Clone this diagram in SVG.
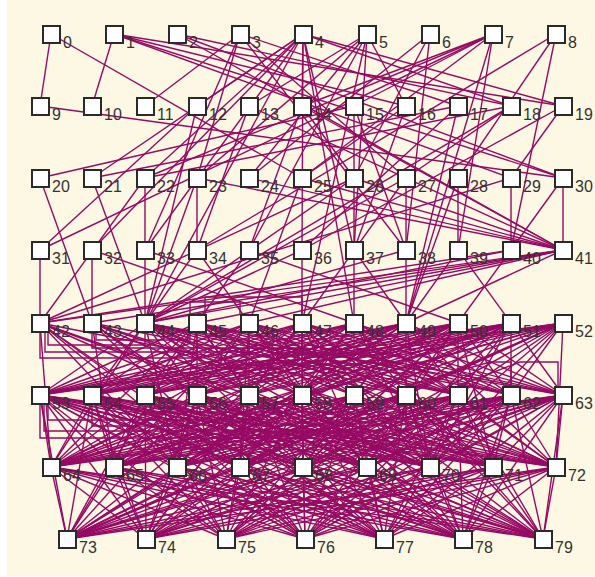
<svg xmlns="http://www.w3.org/2000/svg" width="595" height="577" viewBox="0 0 595 577">
<style>
.e{stroke:#960a64;stroke-width:1.4;fill:none}
.n{fill:#fff;stroke:#2a2a2a;stroke-width:2}
.l{font-family:"Liberation Sans",Arial,sans-serif;font-size:16px;fill:#333}
</style>
<rect x="0" y="0" width="595" height="577" fill="#fff"/>
<rect x="7" y="0" width="588" height="576" fill="#fdf8e3"/>
<g id="connectors" class="e">
<path d="M51 34L40 106"/><path d="M51 34L302 178"/>
<path d="M114 34L92 106"/><path d="M114 34L406 106"/><path d="M114 34L563 106"/><path d="M114 34L511 178"/><path d="M114 34L563 178"/>
<path d="M177 34L563 178"/><path d="M177 34L563 250"/><path d="M177 34L511 106"/>
<path d="M240 34L145 106"/><path d="M240 34L197 178"/><path d="M240 34L458 106"/><path d="M240 34L406 178"/><path d="M240 34L145 250"/><path d="M240 34L406 250"/>
<path d="M303 34L197 106"/><path d="M303 34L92 178"/><path d="M303 34L145 178"/><path d="M303 34L92 250"/><path d="M303 34L145 250"/><path d="M303 34L302 106"/><path d="M303 34L302 250"/><path d="M303 34L354 250"/><path d="M303 34L354 323"/><path d="M303 34L511 106"/><path d="M303 34L563 106"/><path d="M303 34L145 323"/>
<path d="M367 34L249 106"/><path d="M367 34L197 178"/><path d="M367 34L249 178"/><path d="M367 34L249 250"/><path d="M367 34L354 250"/><path d="M367 34L406 106"/><path d="M367 34L302 323"/>
<path d="M430 34L249 178"/><path d="M430 34L354 178"/><path d="M430 34L406 250"/>
<path d="M493 34L302 106"/><path d="M493 34L40 250"/><path d="M493 34L145 178"/><path d="M493 34L354 106"/><path d="M493 34L458 250"/><path d="M493 34L302 178"/><path d="M493 34L406 323"/>
<path d="M556 34L511 250"/><path d="M556 34L197 250"/><path d="M556 34L458 178"/>
<path d="M40 106L563 178"/>
<path d="M197 106L145 323"/><path d="M197 106L40 250"/>
<path d="M249 106L563 250"/><path d="M249 106L197 250"/>
<path d="M302 106L563 250"/><path d="M302 106L249 250"/><path d="M302 106L354 178"/>
<path d="M354 106L406 250"/><path d="M354 106L354 178"/>
<path d="M406 106L354 250"/><path d="M406 106L302 178"/>
<path d="M458 106L406 323"/><path d="M458 106L302 250"/>
<path d="M511 106L145 323"/><path d="M511 106L406 178"/>
<path d="M563 106L302 250"/><path d="M563 106L511 178"/>
<path d="M40 178L92 323"/><path d="M40 178L354 106"/>
<path d="M92 178L145 323"/><path d="M92 178L458 106"/>
<path d="M145 178L145 250"/><path d="M145 178L40 323"/><path d="M145 178L511 106"/>
<path d="M197 178L197 250"/><path d="M197 178L145 323"/><path d="M197 178L563 250"/>
<path d="M249 178L563 250"/>
<path d="M302 178L563 250"/><path d="M302 178L249 323"/>
<path d="M354 178L563 250"/><path d="M354 178L354 250"/><path d="M354 178L40 323"/><path d="M354 178L145 323"/>
<path d="M406 178L406 250"/><path d="M406 178L302 323"/><path d="M406 178L145 323"/>
<path d="M458 178L458 250"/><path d="M458 178L406 323"/>
<path d="M511 178L511 250"/><path d="M511 178L40 323"/>
<path d="M563 178L511 250"/><path d="M563 178L563 250"/>
<path d="M40 250L40 323"/>
<path d="M92 250L92 323"/><path d="M92 250L302 323"/>
<path d="M145 250L145 323"/><path d="M145 250L354 323"/>
<path d="M197 250L145 323"/><path d="M197 250L249 323"/>
<path d="M249 250L197 323"/><path d="M249 250L458 323"/>
<path d="M302 250L302 323"/><path d="M302 250L145 323"/>
<path d="M354 250L354 323"/><path d="M354 250L406 323"/>
<path d="M406 250L406 323"/><path d="M406 250L145 323"/>
<path d="M458 250L406 323"/><path d="M458 250L511 323"/>
<path d="M511 250L458 323"/><path d="M511 250L40 323"/><path d="M511 250L145 323"/>
<path d="M563 250L40 323"/><path d="M563 250L92 323"/><path d="M563 250L145 323"/><path d="M563 250L197 323"/><path d="M563 250L406 323"/><path d="M563 250L249 323"/>
<path d="M40 323L145 395"/><path d="M40 323L249 395"/><path d="M40 323L406 395"/>
<path d="M92 323L197 395"/><path d="M92 323L302 395"/><path d="M92 323L458 395"/>
<path d="M145 323L40 395"/><path d="M145 323L92 395"/><path d="M145 323L249 395"/><path d="M145 323L354 395"/><path d="M145 323L511 395"/><path d="M145 323L563 395"/>
<path d="M197 323L40 395"/><path d="M197 323L92 395"/><path d="M197 323L145 395"/><path d="M197 323L302 395"/><path d="M197 323L406 395"/><path d="M197 323L563 395"/>
<path d="M249 323L40 395"/><path d="M249 323L92 395"/><path d="M249 323L197 395"/><path d="M249 323L354 395"/><path d="M249 323L458 395"/><path d="M249 323L511 395"/>
<path d="M302 323L40 395"/><path d="M302 323L92 395"/><path d="M302 323L145 395"/><path d="M302 323L249 395"/><path d="M302 323L406 395"/><path d="M302 323L563 395"/>
<path d="M354 323L40 395"/><path d="M354 323L145 395"/><path d="M354 323L197 395"/><path d="M354 323L302 395"/><path d="M354 323L458 395"/><path d="M354 323L511 395"/>
<path d="M406 323L40 395"/><path d="M406 323L92 395"/><path d="M406 323L197 395"/><path d="M406 323L249 395"/><path d="M406 323L354 395"/><path d="M406 323L563 395"/>
<path d="M458 323L40 395"/><path d="M458 323L92 395"/><path d="M458 323L145 395"/><path d="M458 323L302 395"/><path d="M458 323L406 395"/><path d="M458 323L511 395"/>
<path d="M511 323L40 395"/><path d="M511 323L145 395"/><path d="M511 323L197 395"/><path d="M511 323L249 395"/><path d="M511 323L354 395"/><path d="M511 323L458 395"/>
<path d="M563 323L40 395"/><path d="M563 323L92 395"/><path d="M563 323L145 395"/><path d="M563 323L197 395"/><path d="M563 323L249 395"/><path d="M563 323L302 395"/><path d="M563 323L406 395"/><path d="M563 323L511 395"/>
<path d="M145 323L197 395"/><path d="M145 323L302 395"/><path d="M145 323L406 395"/><path d="M145 323L458 395"/>
<path d="M197 323L197 395"/><path d="M197 323L249 395"/><path d="M197 323L354 395"/><path d="M197 323L458 395"/><path d="M197 323L511 395"/>
<path d="M249 323L145 395"/><path d="M249 323L249 395"/><path d="M249 323L302 395"/><path d="M249 323L406 395"/><path d="M249 323L563 395"/>
<path d="M302 323L197 395"/><path d="M302 323L302 395"/><path d="M302 323L354 395"/><path d="M302 323L458 395"/><path d="M302 323L511 395"/>
<path d="M354 323L92 395"/><path d="M354 323L249 395"/><path d="M354 323L354 395"/><path d="M354 323L406 395"/><path d="M354 323L563 395"/>
<path d="M406 323L145 395"/><path d="M406 323L302 395"/><path d="M406 323L406 395"/><path d="M406 323L458 395"/><path d="M406 323L511 395"/>
<path d="M458 323L197 395"/><path d="M458 323L249 395"/><path d="M458 323L354 395"/><path d="M458 323L458 395"/><path d="M458 323L563 395"/>
<path d="M511 323L92 395"/><path d="M511 323L302 395"/><path d="M511 323L406 395"/><path d="M511 323L511 395"/><path d="M511 323L563 395"/>
<path d="M563 323L354 395"/><path d="M563 323L458 395"/>
<path d="M40 323L51 467"/><path d="M40 323L240 467"/><path d="M40 323L430 467"/><path d="M40 323L177 467"/><path d="M40 323L367 467"/>
<path d="M92 323L114 467"/><path d="M92 323L303 467"/><path d="M92 323L556 467"/><path d="M92 323L240 467"/><path d="M92 323L430 467"/>
<path d="M145 323L177 467"/><path d="M145 323L367 467"/><path d="M145 323L493 467"/><path d="M145 323L51 467"/><path d="M145 323L303 467"/>
<path d="M197 323L51 467"/><path d="M197 323L303 467"/><path d="M197 323L430 467"/><path d="M197 323L177 467"/><path d="M197 323L556 467"/>
<path d="M249 323L114 467"/><path d="M249 323L240 467"/><path d="M249 323L556 467"/><path d="M249 323L367 467"/><path d="M249 323L493 467"/>
<path d="M302 323L51 467"/><path d="M302 323L177 467"/><path d="M302 323L367 467"/><path d="M302 323L493 467"/><path d="M302 323L303 467"/><path d="M302 323L430 467"/>
<path d="M354 323L114 467"/><path d="M354 323L240 467"/><path d="M354 323L430 467"/><path d="M354 323L51 467"/><path d="M354 323L556 467"/>
<path d="M406 323L51 467"/><path d="M406 323L303 467"/><path d="M406 323L556 467"/><path d="M406 323L177 467"/><path d="M406 323L430 467"/>
<path d="M458 323L177 467"/><path d="M458 323L367 467"/><path d="M458 323L493 467"/><path d="M458 323L114 467"/><path d="M458 323L303 467"/>
<path d="M511 323L114 467"/><path d="M511 323L240 467"/><path d="M511 323L430 467"/><path d="M511 323L51 467"/><path d="M511 323L367 467"/>
<path d="M563 323L51 467"/><path d="M563 323L303 467"/><path d="M563 323L556 467"/><path d="M563 323L240 467"/><path d="M563 323L430 467"/>
<path d="M40 323L305 539"/><path d="M92 323L384 539"/><path d="M145 323L543 539"/><path d="M197 323L67 539"/><path d="M249 323L463 539"/><path d="M302 323L146 539"/><path d="M354 323L543 539"/><path d="M406 323L67 539"/><path d="M458 323L226 539"/><path d="M511 323L67 539"/><path d="M563 323L67 539"/><path d="M563 323L305 539"/>
<path d="M40 395L51 467"/><path d="M40 395L177 467"/><path d="M40 395L303 467"/><path d="M40 395L430 467"/><path d="M40 395L556 467"/><path d="M40 395L114 467"/><path d="M40 395L240 467"/><path d="M40 395L367 467"/><path d="M40 395L493 467"/>
<path d="M92 395L114 467"/><path d="M92 395L240 467"/><path d="M92 395L367 467"/><path d="M92 395L493 467"/><path d="M92 395L51 467"/><path d="M92 395L177 467"/><path d="M92 395L303 467"/><path d="M92 395L430 467"/><path d="M92 395L556 467"/>
<path d="M145 395L51 467"/><path d="M145 395L177 467"/><path d="M145 395L303 467"/><path d="M145 395L430 467"/><path d="M145 395L556 467"/><path d="M145 395L114 467"/><path d="M145 395L240 467"/><path d="M145 395L367 467"/><path d="M145 395L493 467"/>
<path d="M197 395L114 467"/><path d="M197 395L240 467"/><path d="M197 395L367 467"/><path d="M197 395L493 467"/><path d="M197 395L51 467"/><path d="M197 395L177 467"/><path d="M197 395L303 467"/><path d="M197 395L430 467"/><path d="M197 395L556 467"/>
<path d="M249 395L51 467"/><path d="M249 395L177 467"/><path d="M249 395L303 467"/><path d="M249 395L430 467"/><path d="M249 395L556 467"/><path d="M249 395L114 467"/><path d="M249 395L240 467"/><path d="M249 395L367 467"/><path d="M249 395L493 467"/>
<path d="M302 395L51 467"/><path d="M302 395L114 467"/><path d="M302 395L240 467"/><path d="M302 395L367 467"/><path d="M302 395L493 467"/><path d="M302 395L177 467"/><path d="M302 395L303 467"/><path d="M302 395L430 467"/><path d="M302 395L556 467"/>
<path d="M354 395L51 467"/><path d="M354 395L177 467"/><path d="M354 395L303 467"/><path d="M354 395L430 467"/><path d="M354 395L556 467"/><path d="M354 395L114 467"/><path d="M354 395L240 467"/><path d="M354 395L367 467"/><path d="M354 395L493 467"/>
<path d="M406 395L51 467"/><path d="M406 395L114 467"/><path d="M406 395L240 467"/><path d="M406 395L367 467"/><path d="M406 395L493 467"/><path d="M406 395L177 467"/><path d="M406 395L303 467"/><path d="M406 395L430 467"/><path d="M406 395L556 467"/>
<path d="M458 395L51 467"/><path d="M458 395L177 467"/><path d="M458 395L303 467"/><path d="M458 395L430 467"/><path d="M458 395L556 467"/><path d="M458 395L114 467"/><path d="M458 395L240 467"/><path d="M458 395L367 467"/><path d="M458 395L493 467"/>
<path d="M511 395L51 467"/><path d="M511 395L114 467"/><path d="M511 395L367 467"/><path d="M511 395L430 467"/><path d="M511 395L493 467"/><path d="M511 395L556 467"/><path d="M511 395L177 467"/><path d="M511 395L240 467"/><path d="M511 395L303 467"/>
<path d="M563 395L51 467"/><path d="M563 395L240 467"/><path d="M563 395L367 467"/><path d="M563 395L430 467"/><path d="M563 395L493 467"/><path d="M563 395L556 467"/><path d="M563 395L114 467"/><path d="M563 395L177 467"/><path d="M563 395L303 467"/>
<path d="M40 395L67 539"/><path d="M40 395L226 539"/><path d="M40 395L384 539"/><path d="M40 395L543 539"/><path d="M40 395L146 539"/><path d="M40 395L305 539"/><path d="M40 395L463 539"/>
<path d="M92 395L146 539"/><path d="M92 395L305 539"/><path d="M92 395L463 539"/><path d="M92 395L67 539"/><path d="M92 395L226 539"/><path d="M92 395L384 539"/><path d="M92 395L543 539"/>
<path d="M145 395L67 539"/><path d="M145 395L226 539"/><path d="M145 395L384 539"/><path d="M145 395L543 539"/><path d="M145 395L146 539"/><path d="M145 395L305 539"/><path d="M145 395L463 539"/>
<path d="M197 395L146 539"/><path d="M197 395L305 539"/><path d="M197 395L463 539"/><path d="M197 395L67 539"/><path d="M197 395L226 539"/><path d="M197 395L384 539"/><path d="M197 395L543 539"/>
<path d="M249 395L67 539"/><path d="M249 395L226 539"/><path d="M249 395L543 539"/><path d="M249 395L146 539"/><path d="M249 395L305 539"/><path d="M249 395L384 539"/><path d="M249 395L463 539"/>
<path d="M302 395L67 539"/><path d="M302 395L146 539"/><path d="M302 395L384 539"/><path d="M302 395L543 539"/><path d="M302 395L226 539"/><path d="M302 395L305 539"/><path d="M302 395L463 539"/>
<path d="M354 395L67 539"/><path d="M354 395L305 539"/><path d="M354 395L463 539"/><path d="M354 395L146 539"/><path d="M354 395L226 539"/><path d="M354 395L384 539"/><path d="M354 395L543 539"/>
<path d="M406 395L67 539"/><path d="M406 395L226 539"/><path d="M406 395L543 539"/><path d="M406 395L146 539"/><path d="M406 395L305 539"/><path d="M406 395L384 539"/><path d="M406 395L463 539"/>
<path d="M458 395L67 539"/><path d="M458 395L146 539"/><path d="M458 395L384 539"/><path d="M458 395L543 539"/><path d="M458 395L226 539"/><path d="M458 395L305 539"/><path d="M458 395L463 539"/>
<path d="M511 395L67 539"/><path d="M511 395L305 539"/><path d="M511 395L543 539"/><path d="M511 395L146 539"/><path d="M511 395L226 539"/><path d="M511 395L384 539"/><path d="M511 395L463 539"/>
<path d="M563 395L67 539"/><path d="M563 395L226 539"/><path d="M563 395L463 539"/><path d="M563 395L543 539"/><path d="M563 395L146 539"/><path d="M563 395L305 539"/><path d="M563 395L384 539"/>
<path d="M51 467L67 539"/><path d="M51 467L146 539"/><path d="M51 467L305 539"/><path d="M51 467L463 539"/><path d="M51 467L543 539"/><path d="M51 467L226 539"/><path d="M51 467L384 539"/>
<path d="M114 467L67 539"/><path d="M114 467L226 539"/><path d="M114 467L384 539"/><path d="M114 467L543 539"/><path d="M114 467L146 539"/><path d="M114 467L305 539"/><path d="M114 467L463 539"/>
<path d="M177 467L67 539"/><path d="M177 467L146 539"/><path d="M177 467L305 539"/><path d="M177 467L543 539"/><path d="M177 467L226 539"/><path d="M177 467L384 539"/><path d="M177 467L463 539"/>
<path d="M240 467L67 539"/><path d="M240 467L226 539"/><path d="M240 467L463 539"/><path d="M240 467L543 539"/><path d="M240 467L146 539"/><path d="M240 467L305 539"/><path d="M240 467L384 539"/>
<path d="M303 467L67 539"/><path d="M303 467L146 539"/><path d="M303 467L384 539"/><path d="M303 467L543 539"/><path d="M303 467L226 539"/><path d="M303 467L305 539"/><path d="M303 467L463 539"/>
<path d="M367 467L67 539"/><path d="M367 467L305 539"/><path d="M367 467L463 539"/><path d="M367 467L543 539"/><path d="M367 467L146 539"/><path d="M367 467L226 539"/><path d="M367 467L384 539"/>
<path d="M430 467L67 539"/><path d="M430 467L226 539"/><path d="M430 467L384 539"/><path d="M430 467L543 539"/><path d="M430 467L146 539"/><path d="M430 467L305 539"/><path d="M430 467L463 539"/>
<path d="M493 467L67 539"/><path d="M493 467L146 539"/><path d="M493 467L463 539"/><path d="M493 467L543 539"/><path d="M493 467L226 539"/><path d="M493 467L305 539"/><path d="M493 467L384 539"/>
<path d="M556 467L67 539"/><path d="M556 467L305 539"/><path d="M556 467L463 539"/><path d="M556 467L543 539"/><path d="M556 467L146 539"/><path d="M556 467L226 539"/><path d="M556 467L384 539"/>
<path d="M40 332V358H197V332"/><path d="M45 332V352H249V332"/><path d="M48 332V345H145V332"/><path d="M92 332V348H302V332"/><path d="M96 332V340H190V332"/>
<path d="M190 314V302H240V314"/><path d="M205 314V297H302V314"/>
<path d="M40 404V438H302V404"/><path d="M44 404V431H406V404"/><path d="M48 404V420H249V404"/><path d="M92 404V426H197V404"/><path d="M150 404V412H354V404"/>
<path d="M558 386V362H520L458 386"/><path d="M511 386V362H490L406 386"/>
</g>
<g id="n0"><rect class="n" x="43" y="26" width="17" height="17"/><text class="l" x="63" y="48">0</text></g>
<g id="n1"><rect class="n" x="106" y="26" width="17" height="17"/><text class="l" x="126" y="48">1</text></g>
<g id="n2"><rect class="n" x="169" y="26" width="17" height="17"/><text class="l" x="189" y="48">2</text></g>
<g id="n3"><rect class="n" x="232" y="26" width="17" height="17"/><text class="l" x="252" y="48">3</text></g>
<g id="n4"><rect class="n" x="295" y="26" width="17" height="17"/><text class="l" x="315" y="48">4</text></g>
<g id="n5"><rect class="n" x="359" y="26" width="17" height="17"/><text class="l" x="379" y="48">5</text></g>
<g id="n6"><rect class="n" x="422" y="26" width="17" height="17"/><text class="l" x="442" y="48">6</text></g>
<g id="n7"><rect class="n" x="485" y="26" width="17" height="17"/><text class="l" x="505" y="48">7</text></g>
<g id="n8"><rect class="n" x="548" y="26" width="17" height="17"/><text class="l" x="568" y="48">8</text></g>
<g id="n9"><rect class="n" x="32" y="98" width="17" height="17"/><text class="l" x="52" y="120">9</text></g>
<g id="n10"><rect class="n" x="84" y="98" width="17" height="17"/><text class="l" x="104" y="120">10</text></g>
<g id="n11"><rect class="n" x="137" y="98" width="17" height="17"/><text class="l" x="157" y="120">11</text></g>
<g id="n12"><rect class="n" x="189" y="98" width="17" height="17"/><text class="l" x="209" y="120">12</text></g>
<g id="n13"><rect class="n" x="241" y="98" width="17" height="17"/><text class="l" x="261" y="120">13</text></g>
<g id="n14"><rect class="n" x="294" y="98" width="17" height="17"/><text class="l" x="314" y="120">14</text></g>
<g id="n15"><rect class="n" x="346" y="98" width="17" height="17"/><text class="l" x="366" y="120">15</text></g>
<g id="n16"><rect class="n" x="398" y="98" width="17" height="17"/><text class="l" x="418" y="120">16</text></g>
<g id="n17"><rect class="n" x="450" y="98" width="17" height="17"/><text class="l" x="470" y="120">17</text></g>
<g id="n18"><rect class="n" x="503" y="98" width="17" height="17"/><text class="l" x="523" y="120">18</text></g>
<g id="n19"><rect class="n" x="555" y="98" width="17" height="17"/><text class="l" x="575" y="120">19</text></g>
<g id="n20"><rect class="n" x="32" y="170" width="17" height="17"/><text class="l" x="52" y="192">20</text></g>
<g id="n21"><rect class="n" x="84" y="170" width="17" height="17"/><text class="l" x="104" y="192">21</text></g>
<g id="n22"><rect class="n" x="137" y="170" width="17" height="17"/><text class="l" x="157" y="192">22</text></g>
<g id="n23"><rect class="n" x="189" y="170" width="17" height="17"/><text class="l" x="209" y="192">23</text></g>
<g id="n24"><rect class="n" x="241" y="170" width="17" height="17"/><text class="l" x="261" y="192">24</text></g>
<g id="n25"><rect class="n" x="294" y="170" width="17" height="17"/><text class="l" x="314" y="192">25</text></g>
<g id="n26"><rect class="n" x="346" y="170" width="17" height="17"/><text class="l" x="366" y="192">26</text></g>
<g id="n27"><rect class="n" x="398" y="170" width="17" height="17"/><text class="l" x="418" y="192">27</text></g>
<g id="n28"><rect class="n" x="450" y="170" width="17" height="17"/><text class="l" x="470" y="192">28</text></g>
<g id="n29"><rect class="n" x="503" y="170" width="17" height="17"/><text class="l" x="523" y="192">29</text></g>
<g id="n30"><rect class="n" x="555" y="170" width="17" height="17"/><text class="l" x="575" y="192">30</text></g>
<g id="n31"><rect class="n" x="32" y="242" width="17" height="17"/><text class="l" x="52" y="264">31</text></g>
<g id="n32"><rect class="n" x="84" y="242" width="17" height="17"/><text class="l" x="104" y="264">32</text></g>
<g id="n33"><rect class="n" x="137" y="242" width="17" height="17"/><text class="l" x="157" y="264">33</text></g>
<g id="n34"><rect class="n" x="189" y="242" width="17" height="17"/><text class="l" x="209" y="264">34</text></g>
<g id="n35"><rect class="n" x="241" y="242" width="17" height="17"/><text class="l" x="261" y="264">35</text></g>
<g id="n36"><rect class="n" x="294" y="242" width="17" height="17"/><text class="l" x="314" y="264">36</text></g>
<g id="n37"><rect class="n" x="346" y="242" width="17" height="17"/><text class="l" x="366" y="264">37</text></g>
<g id="n38"><rect class="n" x="398" y="242" width="17" height="17"/><text class="l" x="418" y="264">38</text></g>
<g id="n39"><rect class="n" x="450" y="242" width="17" height="17"/><text class="l" x="470" y="264">39</text></g>
<g id="n40"><rect class="n" x="503" y="242" width="17" height="17"/><text class="l" x="523" y="264">40</text></g>
<g id="n41"><rect class="n" x="555" y="242" width="17" height="17"/><text class="l" x="575" y="264">41</text></g>
<g id="n42"><rect class="n" x="32" y="315" width="17" height="17"/><text class="l" x="52" y="337">42</text></g>
<g id="n43"><rect class="n" x="84" y="315" width="17" height="17"/><text class="l" x="104" y="337">43</text></g>
<g id="n44"><rect class="n" x="137" y="315" width="17" height="17"/><text class="l" x="157" y="337">44</text></g>
<g id="n45"><rect class="n" x="189" y="315" width="17" height="17"/><text class="l" x="209" y="337">45</text></g>
<g id="n46"><rect class="n" x="241" y="315" width="17" height="17"/><text class="l" x="261" y="337">46</text></g>
<g id="n47"><rect class="n" x="294" y="315" width="17" height="17"/><text class="l" x="314" y="337">47</text></g>
<g id="n48"><rect class="n" x="346" y="315" width="17" height="17"/><text class="l" x="366" y="337">48</text></g>
<g id="n49"><rect class="n" x="398" y="315" width="17" height="17"/><text class="l" x="418" y="337">49</text></g>
<g id="n50"><rect class="n" x="450" y="315" width="17" height="17"/><text class="l" x="470" y="337">50</text></g>
<g id="n51"><rect class="n" x="503" y="315" width="17" height="17"/><text class="l" x="523" y="337">51</text></g>
<g id="n52"><rect class="n" x="555" y="315" width="17" height="17"/><text class="l" x="575" y="337">52</text></g>
<g id="n53"><rect class="n" x="32" y="387" width="17" height="17"/><text class="l" x="52" y="409">53</text></g>
<g id="n54"><rect class="n" x="84" y="387" width="17" height="17"/><text class="l" x="104" y="409">54</text></g>
<g id="n55"><rect class="n" x="137" y="387" width="17" height="17"/><text class="l" x="157" y="409">55</text></g>
<g id="n56"><rect class="n" x="189" y="387" width="17" height="17"/><text class="l" x="209" y="409">56</text></g>
<g id="n57"><rect class="n" x="241" y="387" width="17" height="17"/><text class="l" x="261" y="409">57</text></g>
<g id="n58"><rect class="n" x="294" y="387" width="17" height="17"/><text class="l" x="314" y="409">58</text></g>
<g id="n59"><rect class="n" x="346" y="387" width="17" height="17"/><text class="l" x="366" y="409">59</text></g>
<g id="n60"><rect class="n" x="398" y="387" width="17" height="17"/><text class="l" x="418" y="409">60</text></g>
<g id="n61"><rect class="n" x="450" y="387" width="17" height="17"/><text class="l" x="470" y="409">61</text></g>
<g id="n62"><rect class="n" x="503" y="387" width="17" height="17"/><text class="l" x="523" y="409">62</text></g>
<g id="n63"><rect class="n" x="555" y="387" width="17" height="17"/><text class="l" x="575" y="409">63</text></g>
<g id="n64"><rect class="n" x="43" y="459" width="17" height="17"/><text class="l" x="63" y="481">64</text></g>
<g id="n65"><rect class="n" x="106" y="459" width="17" height="17"/><text class="l" x="126" y="481">65</text></g>
<g id="n66"><rect class="n" x="169" y="459" width="17" height="17"/><text class="l" x="189" y="481">66</text></g>
<g id="n67"><rect class="n" x="232" y="459" width="17" height="17"/><text class="l" x="252" y="481">67</text></g>
<g id="n68"><rect class="n" x="295" y="459" width="17" height="17"/><text class="l" x="315" y="481">68</text></g>
<g id="n69"><rect class="n" x="359" y="459" width="17" height="17"/><text class="l" x="379" y="481">69</text></g>
<g id="n70"><rect class="n" x="422" y="459" width="17" height="17"/><text class="l" x="442" y="481">70</text></g>
<g id="n71"><rect class="n" x="485" y="459" width="17" height="17"/><text class="l" x="505" y="481">71</text></g>
<g id="n72"><rect class="n" x="548" y="459" width="17" height="17"/><text class="l" x="568" y="481">72</text></g>
<g id="n73"><rect class="n" x="59" y="531" width="17" height="17"/><text class="l" x="79" y="553">73</text></g>
<g id="n74"><rect class="n" x="138" y="531" width="17" height="17"/><text class="l" x="158" y="553">74</text></g>
<g id="n75"><rect class="n" x="218" y="531" width="17" height="17"/><text class="l" x="238" y="553">75</text></g>
<g id="n76"><rect class="n" x="297" y="531" width="17" height="17"/><text class="l" x="317" y="553">76</text></g>
<g id="n77"><rect class="n" x="376" y="531" width="17" height="17"/><text class="l" x="396" y="553">77</text></g>
<g id="n78"><rect class="n" x="455" y="531" width="17" height="17"/><text class="l" x="475" y="553">78</text></g>
<g id="n79"><rect class="n" x="535" y="531" width="17" height="17"/><text class="l" x="555" y="553">79</text></g>
</svg>
